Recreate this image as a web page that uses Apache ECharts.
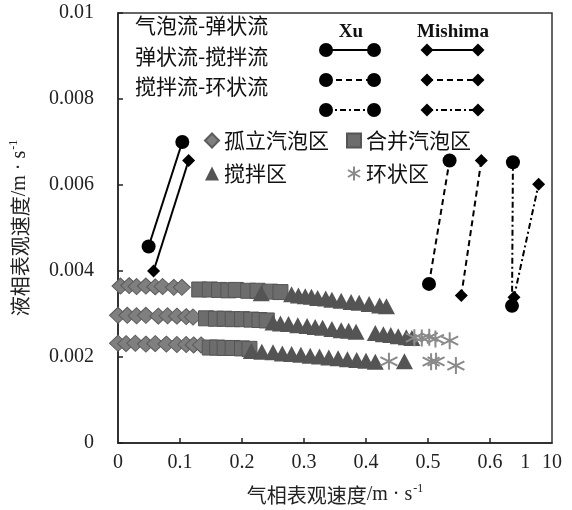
<!DOCTYPE html>
<html>
<head>
<meta charset="utf-8">
<script src="https://cdn.jsdelivr.net/npm/echarts@6/dist/echarts.min.js"></script>
<style>html,body{margin:0;padding:0;background:#fff}#c{width:572px;height:510px}</style>
</head>
<body>
<div id="c"></div>
<script>
// ---- axis ticks / labels (display coordinates of the original broken axis) ----
const xTickValues = [0.1, 0.2, 0.3, 0.4, 0.5, 0.6];
const xLabelValues = [0, 0.1, 0.2, 0.3, 0.4, 0.5, 0.6, 0.657, 0.7];
const xLabelTexts = ['0', '0.1', '0.2', '0.3', '0.4', '0.5', '0.6', '1', '10'];

// ---- flow-pattern transition lines [x, y] ----
const xuBubbleSlug = [[0.0494, 0.00457], [0.1037, 0.0070]];
const miBubbleSlug = [[0.0574, 0.0040], [0.1139, 0.00657]];
const xuSlugChurn = [[0.5016, 0.00370], [0.5348, 0.00657]];
const miSlugChurn = [[0.5537, 0.00343], [0.586, 0.00657]];
const xuChurnAnnular = [[0.6355, 0.00319], [0.637, 0.00653]];
const miChurnAnnular = [[0.6387, 0.00339], [0.6784, 0.00602]];

// ---- experimental points [x, y] ----
const isolatedBubble = [
  [0.004, 0.00365], [0.018, 0.00366], [0.03, 0.00364], [0.045, 0.00365], [0.06, 0.00363], [0.072, 0.00364], [0.09, 0.00362], [0.103, 0.00362],
  [0.0, 0.00297], [0.015, 0.00297], [0.03, 0.00296], [0.045, 0.00297], [0.065, 0.00295], [0.08, 0.00296], [0.095, 0.00295], [0.11, 0.00294], [0.121, 0.00293],
  [0.0, 0.00232], [0.013, 0.00231], [0.028, 0.00232], [0.045, 0.00230], [0.06, 0.00231], [0.078, 0.00230], [0.095, 0.00229], [0.11, 0.00229], [0.122, 0.00228], [0.134, 0.00228]
];
const mergedBubble = [
  [0.131, 0.00357], [0.148, 0.00357], [0.163, 0.00356], [0.178, 0.00355], [0.19, 0.00356], [0.21, 0.00354], [0.225, 0.00354], [0.245, 0.00352], [0.262, 0.00351],
  [0.142, 0.00290], [0.158, 0.00289], [0.172, 0.00289], [0.185, 0.00288], [0.2, 0.00288], [0.215, 0.00287], [0.228, 0.00286], [0.24, 0.00285],
  [0.148, 0.00222], [0.16, 0.00222], [0.172, 0.00221], [0.185, 0.00221], [0.2, 0.00220], [0.212, 0.00219]
];
const churn = [
  [0.231, 0.00348], [0.28, 0.00346], [0.291, 0.00343], [0.302, 0.00341], [0.312, 0.00340], [0.322, 0.00337], [0.335, 0.00336], [0.345, 0.00333],
  [0.36, 0.00331], [0.376, 0.00328], [0.389, 0.00326], [0.405, 0.00323], [0.422, 0.00320], [0.433, 0.00318],
  [0.25, 0.00280], [0.262, 0.00278], [0.275, 0.00277], [0.29, 0.00274], [0.305, 0.00272], [0.318, 0.00270], [0.33, 0.00268], [0.345, 0.00265],
  [0.36, 0.00262], [0.372, 0.00261], [0.384, 0.00259], [0.415, 0.00256], [0.428, 0.00253], [0.44, 0.00251], [0.452, 0.00248], [0.465, 0.00246], [0.474, 0.00244],
  [0.215, 0.00214], [0.232, 0.00212], [0.25, 0.00211], [0.265, 0.00208], [0.28, 0.00207], [0.295, 0.00205], [0.31, 0.00203], [0.325, 0.00201],
  [0.34, 0.00199], [0.355, 0.00197], [0.37, 0.00195], [0.385, 0.00193], [0.4, 0.00191], [0.415, 0.00189], [0.462, 0.00190]
];
const annular = [
  [0.478, 0.00245], [0.49, 0.00244], [0.502, 0.00246], [0.512, 0.00242], [0.535, 0.00238],
  [0.437, 0.00190], [0.505, 0.00189], [0.513, 0.00190], [0.545, 0.00180]
];

const cjk = '"Noto Sans CJK SC", sans-serif';
const serif = '"Liberation Serif", "DejaVu Serif", serif';
const asterisk = 'path://M10,0 L10,20 M1.34,5 L18.66,15 M1.34,15 L18.66,5';

function lineSeries(name, data, symbol, size, type) {
  return {
    name: name, type: 'line', data: data, symbol: symbol, symbolSize: size,
    z: 10, silent: true,
    itemStyle: { color: '#000' },
    lineStyle: { color: '#000', width: 2, type: type }
  };
}

const chart = echarts.init(document.getElementById('c'), null, { renderer: 'canvas' });

// legend samples for transition lines (decorative legend)
function sample(x1, x2, y, shape, dash) {
  const els = [{
    type: 'line', shape: { x1: x1, y1: y, x2: x2, y2: y },
    style: { stroke: '#000', lineWidth: 2, lineDash: dash }
  }];
  [x1, x2].forEach(function (cx) {
    if (shape === 'circle') {
      els.push({ type: 'circle', shape: { cx: cx, cy: y, r: 7 }, style: { fill: '#000' } });
    } else {
      els.push({ type: 'polygon', shape: { points: [[cx, y - 6.5], [cx + 6.5, y], [cx, y + 6.5], [cx - 6.5, y]] }, style: { fill: '#000' } });
    }
  });
  return els;
}
const dashed = [6, 4];
const dashDot = [6, 3, 2, 3];
let graphics = [];
graphics = graphics.concat(sample(326, 374, 50, 'circle', null), sample(427, 478, 50, 'diamond', null));
graphics = graphics.concat(sample(326, 374, 80, 'circle', dashed), sample(427, 478, 80, 'diamond', dashed));
graphics = graphics.concat(sample(326, 374, 110, 'circle', dashDot), sample(427, 478, 110, 'diamond', dashDot));
const legendTexts = ['气泡流-弹状流', '弹状流-搅拌流', '搅拌流-环状流'];
const legendTextY = [27, 58, 88];
legendTexts.forEach(function (t, i) {
  graphics.push({ type: 'text', left: 135, top: legendTextY[i] - 12, style: { text: t, font: '21px ' + cjk, fill: '#111' } });
});
graphics.push({ type: 'text', style: { text: 'Xu', x: 351, y: 32, font: 'bold 19px ' + serif, fill: '#111', align: 'center', verticalAlign: 'middle' } });
graphics.push({ type: 'text', style: { text: 'Mishima', x: 453, y: 32, font: 'bold 19px ' + serif, fill: '#111', align: 'center', verticalAlign: 'middle' } });

const option = {
  animation: false,
  backgroundColor: '#fff',
  grid: { left: 117, right: 20, top: 13, bottom: 65, show: true, borderColor: '#333', borderWidth: 1.5, backgroundColor: 'transparent' },
  xAxis: {
    type: 'value', min: 0, max: 0.7, interval: 0.1,
    name: '{cn|气相表观速度}{en|/m · s}{sup|-1}',
    nameLocation: 'middle', nameGap: 40,
    nameTextStyle: {
      rich: {
        cn: { fontFamily: cjk, fontSize: 20, color: '#222' },
        en: { fontFamily: serif, fontSize: 20, color: '#222' },
        sup: { fontFamily: serif, fontSize: 12, color: '#222', padding: [0, 0, 12, 1] }
      }
    },
    axisLine: { lineStyle: { color: '#222', width: 1.5 } },
    axisTick: { inside: true, length: 5, customValues: xTickValues, lineStyle: { color: '#222', width: 1.5 } },
    axisLabel: {
      customValues: xLabelValues,
      margin: 10, fontFamily: serif, fontSize: 20, color: '#222',
      formatter: function (v) {
        for (let i = 0; i < xLabelValues.length; i++) {
          if (Math.abs(v - xLabelValues[i]) < 1e-6) return xLabelTexts[i];
        }
        return '';
      }
    },
    splitLine: { show: false }
  },
  yAxis: {
    type: 'value', min: 0, max: 0.01, interval: 0.002,
    name: '{cn|液相表观速度}{en|/m · s}{sup|-1}',
    nameLocation: 'middle', nameGap: 86,
    nameTextStyle: {
      rich: {
        cn: { fontFamily: cjk, fontSize: 20, color: '#222' },
        en: { fontFamily: serif, fontSize: 20, color: '#222' },
        sup: { fontFamily: serif, fontSize: 12, color: '#222', padding: [0, 0, 12, 1] }
      }
    },
    axisLine: { lineStyle: { color: '#222', width: 1.5 } },
    axisTick: { inside: true, length: 5, lineStyle: { color: '#222', width: 1.5 } },
    axisLabel: { margin: 24, fontFamily: serif, fontSize: 20, color: '#222' },
    splitLine: { show: false }
  },
  legend: [
    {
      data: ['孤立汽泡区', '搅拌区'], orient: 'vertical', left: 199, top: 125,
      itemWidth: 14, itemHeight: 14, itemGap: 12,
      textStyle: { fontFamily: cjk, fontSize: 21, color: '#111' }
    },
    {
      data: ['合并汽泡区', '环状区'], orient: 'vertical', left: 341, top: 125,
      itemWidth: 14, itemHeight: 14, itemGap: 12,
      textStyle: { fontFamily: cjk, fontSize: 21, color: '#111' }
    }
  ],
  graphic: graphics,
  series: [
    { name: '孤立汽泡区', type: 'scatter', data: isolatedBubble, symbol: 'diamond', symbolSize: [17, 16],
      itemStyle: { color: '#7f7f7f', borderColor: '#5c5c5c', borderWidth: 1, opacity: 1 } },
    { name: '合并汽泡区', type: 'scatter', data: mergedBubble, symbol: 'rect', symbolSize: 15,
      itemStyle: { color: '#6d6d6d', borderColor: '#555', borderWidth: 1, opacity: 1 } },
    { name: '搅拌区', type: 'scatter', data: churn, symbol: 'triangle', symbolSize: [17, 16],
      itemStyle: { color: '#545454', opacity: 1 } },
    { name: '环状区', type: 'scatter', data: annular, symbol: asterisk, symbolSize: 17,
      itemStyle: { color: 'transparent', borderColor: '#8a8a8a', borderWidth: 2, opacity: 1 } },
    lineSeries('Xu 气泡流-弹状流', xuBubbleSlug, 'circle', 14, 'solid'),
    lineSeries('Mishima 气泡流-弹状流', miBubbleSlug, 'diamond', 13, 'solid'),
    lineSeries('Xu 弹状流-搅拌流', xuSlugChurn, 'circle', 14, dashed),
    lineSeries('Mishima 弹状流-搅拌流', miSlugChurn, 'diamond', 13, dashed),
    lineSeries('Xu 搅拌流-环状流', xuChurnAnnular, 'circle', 14, dashDot),
    lineSeries('Mishima 搅拌流-环状流', miChurnAnnular, 'diamond', 13, dashDot)
  ]
};
chart.setOption(option);
</script>
</body>
</html>
